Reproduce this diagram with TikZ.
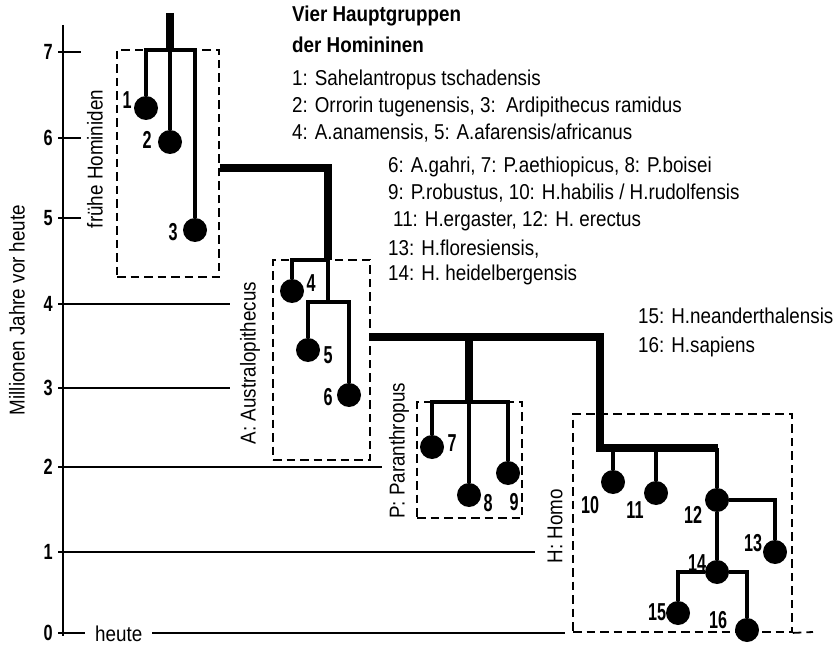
\documentclass[tikz,border=0pt]{standalone}
\usepackage{fontspec}
\setmainfont{Liberation Sans}[FakeStretch=0.875]
\newfontfamily\numfont{Liberation Sans}[FakeStretch=0.74]
\newfontfamily\treefont{Liberation Sans}[FakeStretch=0.66]
\usetikzlibrary{fit}
\begin{document}
\begin{tikzpicture}[x=1pt,y=-1pt,
  txt/.style={inner sep=0pt,anchor=base west,font=\fontsize{21.5}{24}\selectfont},
  ttl/.style={txt,font=\fontsize{21.5}{24}\selectfont\bfseries},
  rlab/.style={inner sep=0pt,rotate=90,font=\fontsize{21.5}{24}\selectfont},
  num/.style={inner sep=0pt,font=\fontsize{22}{24}\numfont\bfseries},
  tnum/.style={inner sep=0pt,font=\fontsize{24.5}{26}\treefont\bfseries},
  taxon/.style={circle,fill=black,draw=none,minimum size=24pt,inner sep=0pt},
  branch/.style={line width=3.1pt,line join=miter},
  trunk/.style={line width=7.2pt,line join=miter},
  axisline/.style={line width=2.1pt},
  groupbox/.style={draw,line width=1.8pt,dash pattern=on 8.5pt off 5pt,inner sep=0pt},
]
\useasboundingbox (0,0) rectangle (838,647);

% ---------- axis ----------
\coordinate (ax0) at (63,25);
\coordinate (ax1) at (63,636);
\draw[axisline] (ax0) -- (ax1);
\foreach \v/\y/\e in {7/52/81,6/138/81,5/218/81,4/304/230,3/388/230,2/467/382,1/552/535,0/633/85}{
  \node[num,anchor=east] (yl\v) at (53,\y) {\v};
  \coordinate (ts\v) at (58,\y);
  \coordinate (te\v) at (\e,\y);
  \draw[axisline] (ts\v) -- (te\v);
}
\node[txt] (heute) at (95,641) {heute};
\coordinate (hl0) at (152,633);
\coordinate (hl1) at (565,633);
\draw[axisline] (hl0) -- (hl1);
\node[rlab] (yaxis) at (17,310) {Millionen Jahre vor heute};

% ---------- group boxes ----------
\node[groupbox,fit={(117,50) (219,277)}] (F) {};
\node[groupbox,fit={(273,260) (370,460)}] (A) {};
\node[groupbox,fit={(417,402) (522,518)}] (P) {};
\node[groupbox,fit={(573,414) (792,632)}] (H) {};
\coordinate (hx1) at (813,632);
\draw[groupbox] (H.south east) -- (hx1);

\node[rlab] (lF) at (95,159) {frühe Hominiden};
\node[rlab] (lA) at (250,363) {A: Australopithecus};
\node[rlab] (lP) at (399,451) {P: Paranthropus};
\node[rlab] (lH) at (555,526) {H: Homo};

% ---------- taxa ----------
\node[taxon] (c1) at (146,108) {};
\node[taxon] (c2) at (170,142) {};
\node[taxon] (c3) at (195,230) {};
\node[taxon] (c4) at (292,291) {};
\node[taxon] (c5) at (308,350) {};
\node[taxon] (c6) at (349,395) {};
\node[taxon] (c7) at (432,447) {};
\node[taxon] (c8) at (469,495) {};
\node[taxon] (c9) at (508,473) {};
\node[taxon] (c10) at (613,482) {};
\node[taxon] (c11) at (656,493) {};
\node[taxon] (c12) at (717,500) {};
\node[taxon] (c13) at (775,552) {};
\node[taxon] (c14) at (717,572) {};
\node[taxon] (c15) at (678,613) {};
\node[taxon] (c16) at (747,630) {};

% ---------- branch points ----------
\coordinate (ftop) at (170,13);
\coordinate (f0) at (170,50);
\coordinate (t1) at (220,168);
\coordinate (a0) at (328,260);
\coordinate (a1) at (328,302);
\coordinate (t2) at (370,337);
\coordinate (ps) at (469,337);
\coordinate (p0) at (469,402);
\coordinate (h1) at (600,448);
\coordinate (hend) at (718,448);

% ---------- trunk ----------
\draw[trunk] (ftop) -- (f0);
\draw[trunk] (t1) -| (a0);
\draw[trunk] (t2) -| (h1) -- (hend);
\draw[trunk] (ps) -- (p0);

% ---------- branches ----------
\draw[branch] (c1) |- (f0) -| (c3);
\draw[branch] (c2) -- (f0);
\draw[branch] (c4) |- (a0);
\draw[branch] (a0) -- (a1);
\draw[branch] (c5) |- (a1) -| (c6);
\draw[branch] (c7) |- (p0) -| (c9);
\draw[branch] (c8) -- (p0);
\draw[branch] (c10) -- (c10 |- h1);
\draw[branch] (c11) -- (c11 |- h1);
\draw[branch] (c12) -- (c12 |- h1);
\draw[branch] (c12) -| (c13);
\draw[branch] (c12) -- (c14);
\draw[branch] (c15) |- (c14) -| (c16);

% ---------- taxon numbers ----------
\node[tnum] (n1) at (127,100) {1};
\node[tnum] (n2) at (147,140) {2};
\node[tnum] (n3) at (173,232) {3};
\node[tnum] (n4) at (311,283) {4};
\node[tnum] (n5) at (328,355) {5};
\node[tnum] (n6) at (328,397) {6};
\node[tnum] (n7) at (452,443) {7};
\node[tnum] (n8) at (488,503) {8};
\node[tnum] (n9) at (514,502) {9};
\node[tnum] (n10) at (590,505) {10};
\node[tnum] (n11) at (635,510) {11};
\node[tnum] (n12) at (693,515) {12};
\node[tnum] (n13) at (753,543) {13};
\node[tnum] (n14) at (697,563) {14};
\node[tnum] (n15) at (657,612) {15};
\node[tnum] (n16) at (718,620) {16};

% ---------- legend ----------
\node[ttl] (t1l) at (292,22) {Vier Hauptgruppen};
\node[ttl] (t2l) at (292,53) {der Homininen};
\node[txt] (l1) at (292,86) {1: Sahelantropus tschadensis};
\node[txt] (l2) at (292,113) {2: Orrorin tugenensis, 3:\ \ Ardipithecus ramidus};
\node[txt] (l3) at (292,140) {4: A.anamensis, 5: A.afarensis/africanus};
\node[txt] (l4) at (388,173) {6: A.gahri, 7: P.aethiopicus, 8: P.boisei};
\node[txt] (l5) at (388,200) {9: P.robustus, 10: H.habilis / H.rudolfensis};
\node[txt] (l6) at (393,227) {11: H.ergaster, 12: H. erectus};
\node[txt] (l7) at (388,255) {13: H.floresiensis,};
\node[txt] (l8) at (388,280) {14: H. heidelbergensis};
\node[txt] (l9) at (638,323) {15: H.neanderthalensis};
\node[txt] (l10) at (638,352) {16: H.sapiens};
\end{tikzpicture}
\end{document}
